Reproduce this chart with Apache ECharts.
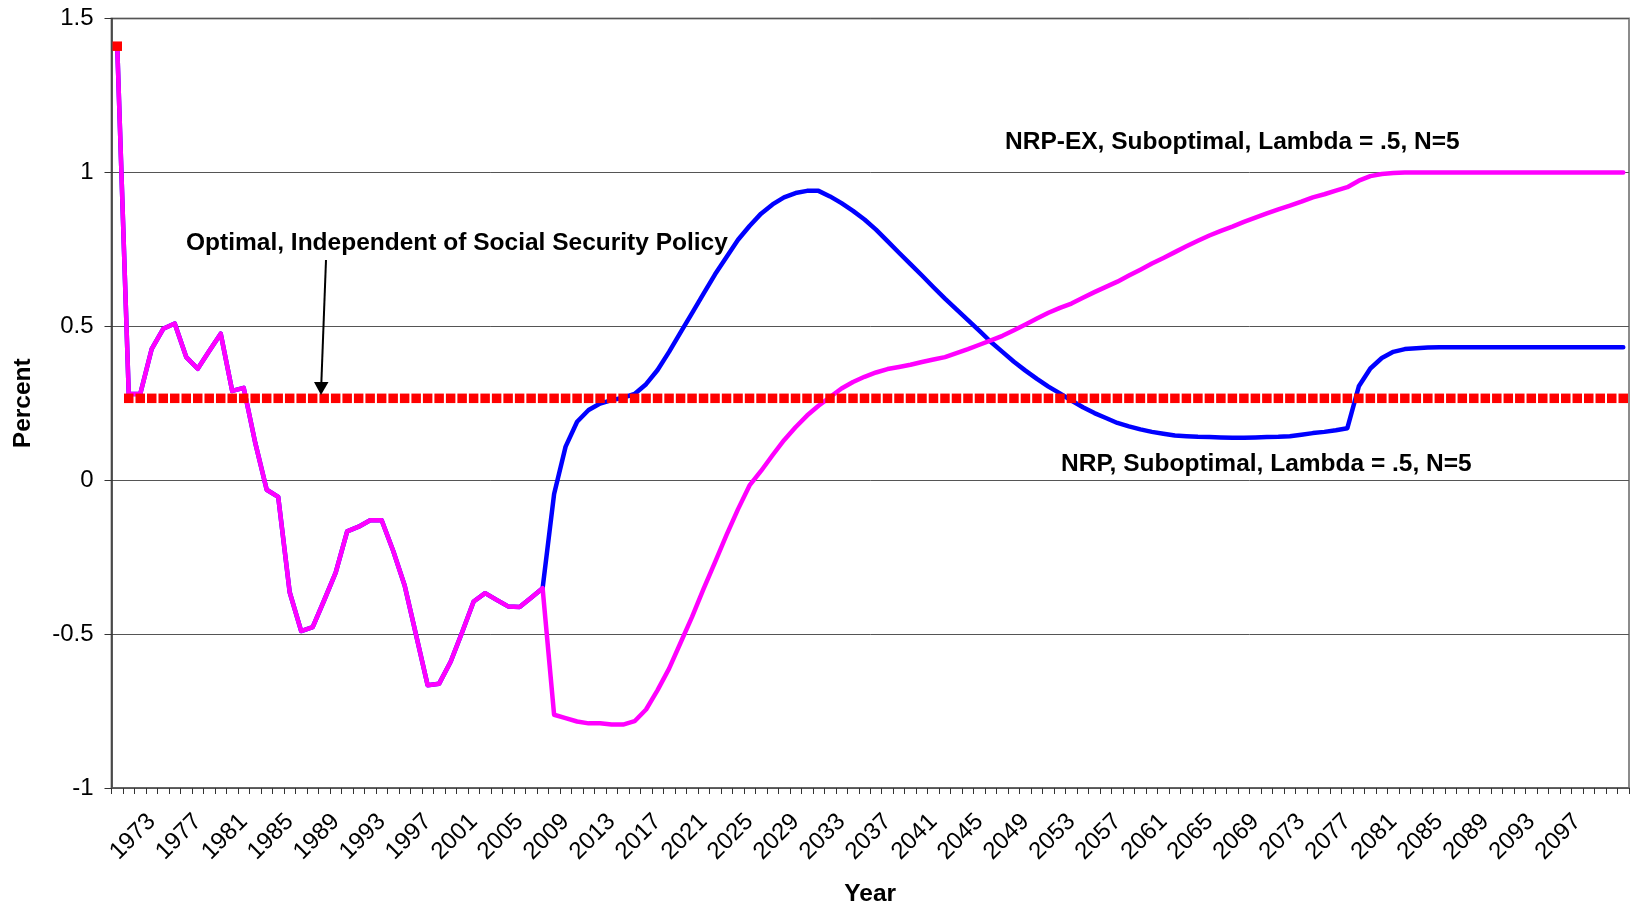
<!DOCTYPE html>
<html>
<head>
<meta charset="utf-8">
<script src="https://cdn.jsdelivr.net/npm/echarts@6/dist/echarts.min.js"></script>
<style>
html,body{margin:0;padding:0;background:#fff;}
#chart{width:1631px;height:912px;}
</style>
</head>
<body>
<div id="chart"></div>
<script>
// Categories (years)
const years = [
 '1970','1971','1972','1973','1974','1975','1976','1977','1978','1979',
 '1980','1981','1982','1983','1984','1985','1986','1987','1988','1989',
 '1990','1991','1992','1993','1994','1995','1996','1997','1998','1999',
 '2000','2001','2002','2003','2004','2005','2006','2007','2008','2009',
 '2010','2011','2012','2013','2014','2015','2016','2017','2018','2019',
 '2020','2021','2022','2023','2024','2025','2026','2027','2028','2029',
 '2030','2031','2032','2033','2034','2035','2036','2037','2038','2039',
 '2040','2041','2042','2043','2044','2045','2046','2047','2048','2049',
 '2050','2051','2052','2053','2054','2055','2056','2057','2058','2059',
 '2060','2061','2062','2063','2064','2065','2066','2067','2068','2069',
 '2070','2071','2072','2073','2074','2075','2076','2077','2078','2079',
 '2080','2081','2082','2083','2084','2085','2086','2087','2088','2089',
 '2090','2091','2092','2093','2094','2095','2096','2097','2098','2099',
 '2100','2101'
];

// Tick labels shown on the x axis
const tickLabels = [
 '1973','1977','1981','1985','1989','1993','1997','2001','2005','2009',
 '2013','2017','2021','2025','2029','2033','2037','2041','2045','2049',
 '2053','2057','2061','2065','2069','2073','2077','2081','2085','2089',
 '2093','2097'
];

// Shared historical path (1970-2007)
const historical = [
 1.41, 0.28, 0.28, 0.427, 0.492, 0.509, 0.40, 0.362, 0.42, 0.476,
 0.29, 0.30, 0.122, -0.031, -0.054, -0.364, -0.49, -0.477, -0.39, -0.30,
 -0.166, -0.151, -0.130, -0.130, -0.229, -0.342, -0.504, -0.666, -0.661, -0.59,
 -0.494, -0.394, -0.367, -0.389, -0.410, -0.412, -0.382, -0.351
];

// NRP-EX projection (2008-2101)
const nrpExProjection = [
 -0.762, -0.773, -0.784, -0.79, -0.79, -0.794, -0.794, -0.783, -0.745, -0.682,
 -0.612, -0.528, -0.444, -0.353, -0.266, -0.178, -0.094, -0.017, 0.03, 0.081,
 0.13, 0.172, 0.21, 0.242, 0.27, 0.298, 0.319, 0.336, 0.35, 0.361,
 0.368, 0.375, 0.384, 0.392, 0.40, 0.413, 0.426, 0.44, 0.454, 0.469,
 0.487, 0.506, 0.525, 0.544, 0.56, 0.574, 0.593, 0.611, 0.628, 0.645,
 0.665, 0.684, 0.704, 0.722, 0.741, 0.76, 0.778, 0.795, 0.81, 0.824,
 0.839, 0.853, 0.867, 0.88, 0.892, 0.905, 0.919, 0.929, 0.941, 0.952,
 0.973, 0.988, 0.995, 0.998, 1.0, 1.0, 1.0, 1.0, 1.0, 1.0,
 1.0, 1.0, 1.0, 1.0, 1.0, 1.0, 1.0, 1.0, 1.0, 1.0,
 1.0, 1.0, 1.0, 1.0
];

// NRP projection (2008-2101)
const nrpProjection = [
 -0.045, 0.109, 0.190, 0.228, 0.249, 0.26, 0.268, 0.28, 0.312, 0.358,
 0.417, 0.48, 0.543, 0.606, 0.669, 0.725, 0.781, 0.826, 0.866, 0.896,
 0.919, 0.933, 0.940, 0.940, 0.922, 0.90, 0.875, 0.847, 0.814, 0.777,
 0.739, 0.702, 0.665, 0.627, 0.59, 0.555, 0.52, 0.485, 0.449, 0.417,
 0.385, 0.356, 0.329, 0.304, 0.282, 0.259, 0.237, 0.218, 0.202, 0.186,
 0.175, 0.165, 0.157, 0.151, 0.145, 0.143, 0.141, 0.14, 0.139, 0.138,
 0.138, 0.139, 0.14, 0.141, 0.143, 0.148, 0.153, 0.157, 0.162, 0.169,
 0.305, 0.363, 0.397, 0.417, 0.426, 0.429, 0.431, 0.432, 0.432, 0.432,
 0.432, 0.432, 0.432, 0.432, 0.432, 0.432, 0.432, 0.432, 0.432, 0.432,
 0.432, 0.432, 0.432, 0.432
];

// Optimal policy (1970-2101)
const optimal = [
 1.41, 0.266, 0.266, 0.266, 0.266, 0.266, 0.266, 0.266, 0.266, 0.266,
 0.266, 0.266, 0.266, 0.266, 0.266, 0.266, 0.266, 0.266, 0.266, 0.266,
 0.266, 0.266, 0.266, 0.266, 0.266, 0.266, 0.266, 0.266, 0.266, 0.266,
 0.266, 0.266, 0.266, 0.266, 0.266, 0.266, 0.266, 0.266, 0.266, 0.266,
 0.266, 0.266, 0.266, 0.266, 0.266, 0.266, 0.266, 0.266, 0.266, 0.266,
 0.266, 0.266, 0.266, 0.266, 0.266, 0.266, 0.266, 0.266, 0.266, 0.266,
 0.266, 0.266, 0.266, 0.266, 0.266, 0.266, 0.266, 0.266, 0.266, 0.266,
 0.266, 0.266, 0.266, 0.266, 0.266, 0.266, 0.266, 0.266, 0.266, 0.266,
 0.266, 0.266, 0.266, 0.266, 0.266, 0.266, 0.266, 0.266, 0.266, 0.266,
 0.266, 0.266, 0.266, 0.266, 0.266, 0.266, 0.266, 0.266, 0.266, 0.266,
 0.266, 0.266, 0.266, 0.266, 0.266, 0.266, 0.266, 0.266, 0.266, 0.266,
 0.266, 0.266, 0.266, 0.266, 0.266, 0.266, 0.266, 0.266, 0.266, 0.266,
 0.266, 0.266, 0.266, 0.266, 0.266, 0.266, 0.266, 0.266, 0.266, 0.266,
 0.266, 0.266
];

const nrp = historical.concat(nrpProjection);
const nrpEx = historical.concat(nrpExProjection);

const FONT = '"Liberation Sans", Arial, sans-serif';
const tickSet = new Set(tickLabels);

const chart = echarts.init(document.getElementById('chart'), null, {renderer: 'canvas'});
chart.setOption({
  animation: false,
  backgroundColor: '#ffffff',
  grid: {
    left: 111.5, right: 2, top: 18.5, bottom: 118,
    show: true, borderColor: '#8c8c8c', borderWidth: 2, backgroundColor: 'transparent'
  },
  xAxis: {
    type: 'category',
    data: years,
    boundaryGap: true,
    name: 'Year',
    nameLocation: 'middle',
    nameGap: 94,
    nameTextStyle: {fontFamily: FONT, fontSize: 24.5, fontWeight: 'bold', color: '#000'},
    axisLine: {onZero: false, lineStyle: {color: '#555', width: 1.5}},
    axisTick: {show: true, interval: 0, length: 6, lineStyle: {color: '#333', width: 1}},
    axisLabel: {
      interval: function (idx, val) { return tickSet.has(val); },
      rotate: 45,
      margin: 30,
      padding: [20, 0, 0, 0],
      fontFamily: FONT, fontSize: 24, color: '#000'
    },
    splitLine: {show: false}
  },
  yAxis: {
    type: 'value',
    min: -1, max: 1.5, interval: 0.5,
    name: 'Percent',
    nameLocation: 'middle',
    nameRotate: 90,
    nameGap: 76,
    nameTextStyle: {fontFamily: FONT, fontSize: 24.5, fontWeight: 'bold', color: '#000'},
    axisLine: {show: true, lineStyle: {color: '#333', width: 1.5}},
    axisTick: {show: true, length: 7, lineStyle: {color: '#333', width: 1}},
    axisLabel: {margin: 18, fontFamily: FONT, fontSize: 24, color: '#000'},
    splitLine: {show: true, lineStyle: {color: '#555', width: 1}}
  },
  series: [
    {
      name: 'NRP, Suboptimal, Lambda = .5, N=5',
      type: 'line', data: nrp, symbol: 'none',
      lineStyle: {color: '#0000ff', width: 4.5, cap: 'round', join: 'round'},
      itemStyle: {color: '#0000ff'}
    },
    {
      name: 'NRP-EX, Suboptimal, Lambda = .5, N=5',
      type: 'line', data: nrpEx, symbol: 'none',
      lineStyle: {color: '#ff00ff', width: 4.5, cap: 'round', join: 'round'},
      itemStyle: {color: '#ff00ff'}
    },
    {
      name: 'Optimal, Independent of Social Security Policy',
      type: 'line', data: optimal,
      symbol: 'rect', symbolSize: 9.5, showSymbol: true, showAllSymbol: true,
      lineStyle: {width: 0, opacity: 0},
      itemStyle: {color: '#ff0000', borderWidth: 0}
    }
  ],
  graphic: [
    {type: 'text', z: 100, style: {text: 'Optimal, Independent of Social Security Policy', x: 186, y: 243, fill: '#000', font: 'bold 24.5px ' + FONT, align: 'left', verticalAlign: 'middle'}},
    {type: 'text', z: 100, style: {text: 'NRP-EX, Suboptimal, Lambda = .5, N=5', x: 1005, y: 142, fill: '#000', font: 'bold 24.5px ' + FONT, align: 'left', verticalAlign: 'middle'}},
    {type: 'text', z: 100, style: {text: 'NRP, Suboptimal, Lambda = .5, N=5', x: 1061, y: 464, fill: '#000', font: 'bold 24.5px ' + FONT, align: 'left', verticalAlign: 'middle'}},
    {type: 'line', z: 100, shape: {x1: 326, y1: 260, x2: 321.3, y2: 384}, style: {stroke: '#000', lineWidth: 2}},
    {type: 'polygon', z: 100, shape: {points: [[314, 382], [328.5, 382], [321, 395]]}, style: {fill: '#000'}}
  ]
});
</script>
</body>
</html>
